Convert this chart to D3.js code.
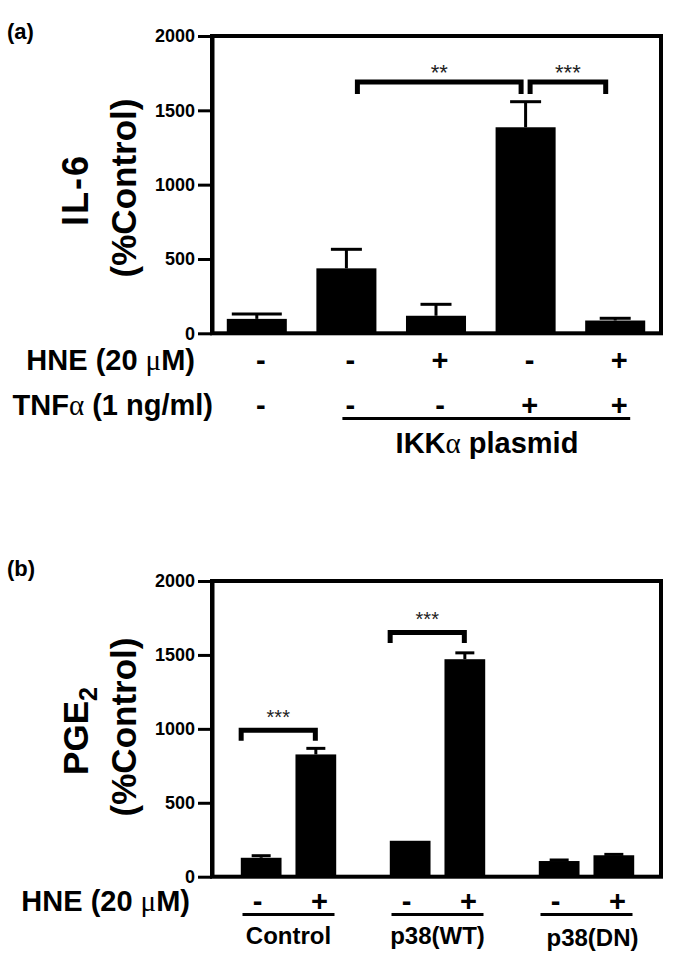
<!DOCTYPE html>
<html><head><meta charset="utf-8">
<script src="https://cdn.jsdelivr.net/npm/d3@7"></script>
<style>
body{margin:0;background:#fff}
text{font-family:"Liberation Sans",Arial,Helvetica,sans-serif;font-weight:bold;fill:#000}
.greek{font-family:"Liberation Serif","Times New Roman",serif;font-weight:normal}
.star{font-weight:normal;fill:#222}
</style>
</head><body>
<svg id="chart" width="685" height="970"></svg>
<script>
// ---------- Panel (a) data ----------
const aCategories = ["ctrl", "ikk", "ikk_hne", "ikk_tnf", "ikk_hne_tnf"];
const aValues = [97, 437, 118, 1386, 86];
const aErrors = [32, 128, 77, 172, 15];
const aHNE = ["-", "-", "+", "-", "+"];
const aTNF = ["-", "-", "-", "+", "+"];
const aTicks = [0, 500, 1000, 1500, 2000];
const aBrackets = [
  {from: 1, to: 3, label: "**", value: 1690},
  {from: 3, to: 4, label: "***", value: 1690}
];

// ---------- Panel (b) data ----------
const bGroups = ["Control", "p38(WT)", "p38(DN)"];
const bHNE = ["-", "+"];
const bValues = [[128, 827], [243, 1471], [106, 145]];
const bErrors = [[14, 41], [0, 43], [7, 6]];
const bTicks = [0, 500, 1000, 1500, 2000];
const bBrackets = [
  {group: 0, label: "***", value: 990},
  {group: 1, label: "***", value: 1652}
];

const svg = d3.select("#chart");

function frameAndAxis(y, ticks, left, right) {
  const g = svg.append("g");
  g.append("rect")
    .attr("x", left).attr("y", y(2000))
    .attr("width", right - left).attr("height", y(0) - y(2000))
    .attr("fill", "none").attr("stroke", "#000").attr("stroke-width", 4);
  const ax = g.append("g").attr("transform", `translate(${left},0)`)
    .call(d3.axisLeft(y).tickValues(ticks).tickFormat(d3.format("d"))
      .tickSize(14).tickPadding(3).tickSizeOuter(0));
  ax.select(".domain").attr("stroke-width", 4);
  ax.selectAll(".tick line").attr("stroke-width", 3);
  ax.selectAll(".tick text").attr("font-size", 18).attr("font-weight", "bold")
    .attr("font-family", '"Liberation Sans",Arial,sans-serif').attr("fill", "#000");
}

function errorBar(g, cx, yTop, yCap, capW, sw) {
  g.append("line").attr("x1", cx).attr("x2", cx).attr("y1", yTop).attr("y2", yCap)
    .attr("stroke", "#000").attr("stroke-width", sw);
  g.append("line").attr("x1", cx - capW / 2).attr("x2", cx + capW / 2).attr("y1", yCap).attr("y2", yCap)
    .attr("stroke", "#000").attr("stroke-width", sw);
}

function bracket(x1, x2, yh, drop, label, starSize, starGap) {
  svg.append("path")
    .attr("d", `M${x1},${yh + drop}V${yh}H${x2}V${yh + drop}`)
    .attr("fill", "none").attr("stroke", "#000").attr("stroke-width", 5)
    .attr("stroke-linejoin", "miter").attr("stroke-linecap", "butt");
  svg.append("text").attr("class", "star")
    .attr("x", (x1 + x2) / 2).attr("y", yh - starGap + 0.58 * starSize)
    .attr("text-anchor", "middle").attr("font-size", starSize).text(label);
}

// ================= Panel (a) =================
const left = 212, right = 661;
const yA = d3.scaleLinear().domain([0, 2000]).range([333.3, 36]);
const xA = d3.scaleBand().domain(aCategories).range([212, 660]).paddingInner(0.33).paddingOuter(0.165);
const cA = i => xA(aCategories[i]) + xA.bandwidth() / 2;

const gA = svg.append("g");
aCategories.forEach((c, i) => {
  const cx = cA(i);
  errorBar(gA, cx, yA(aValues[i]), yA(aValues[i] + aErrors[i]), i === 0 ? 50 : 31, 3);
});
gA.selectAll("rect.bar").data(aCategories).enter().append("rect").attr("class", "bar")
  .attr("x", d => xA(d)).attr("width", xA.bandwidth())
  .attr("y", (d, i) => yA(aValues[i])).attr("height", (d, i) => yA(0) - yA(aValues[i]))
  .attr("fill", "#000");
frameAndAxis(yA, aTicks, left, right);

// brackets (a)
bracket(cA(aBrackets[0].from) + 11, cA(aBrackets[0].to) - 4.5, yA(aBrackets[0].value), 12, aBrackets[0].label, 22, 15);
bracket(cA(aBrackets[1].from) + 4.5, cA(aBrackets[1].to) - 9.5, yA(aBrackets[1].value), 12, aBrackets[1].label, 22, 15);

// y title (a)
svg.append("text").attr("transform", "translate(88,190) rotate(-90)")
  .attr("text-anchor", "middle").attr("font-size", 36).attr("letter-spacing", 2).text("IL-6");
svg.append("text").attr("transform", "translate(136,188) rotate(-90)")
  .attr("text-anchor", "middle").attr("font-size", 35).text("(%Control)");

svg.append("text").attr("x", 7).attr("y", 39).attr("font-size", 22).text("(a)");

// condition rows (a)
const rowA1 = svg.append("text").attr("x", 195).attr("y", 370).attr("text-anchor", "end").attr("font-size", 29);
rowA1.append("tspan").text("HNE (20 ");
rowA1.append("tspan").attr("class", "greek").text("\u03bc");
rowA1.append("tspan").text("M)");
const rowA2 = svg.append("text").attr("x", 213).attr("y", 415).attr("text-anchor", "end").attr("font-size", 29);
rowA2.append("tspan").text("TNF");
rowA2.append("tspan").attr("class", "greek").text("\u03b1");
rowA2.append("tspan").text(" (1 ng/ml)");

aHNE.forEach((m, i) => {
  svg.append("text").attr("x", cA(i) + 4).attr("y", 370).attr("text-anchor", "middle").attr("font-size", 29).text(m);
});
aTNF.forEach((m, i) => {
  svg.append("text").attr("x", cA(i) + 4).attr("y", 415).attr("text-anchor", "middle").attr("font-size", 29).text(m);
});
svg.append("line").attr("x1", cA(1) - 4).attr("x2", cA(4) + 15).attr("y1", 418.5).attr("y2", 418.5)
  .attr("stroke", "#000").attr("stroke-width", 3);
const ikk = svg.append("text").attr("x", 487).attr("y", 453).attr("text-anchor", "middle").attr("font-size", 29);
ikk.append("tspan").text("IKK");
ikk.append("tspan").attr("class", "greek").text("\u03b1");
ikk.append("tspan").text(" plasmid");

// ================= Panel (b) =================
const yB = d3.scaleLinear().domain([0, 2000]).range([876.7, 581]);
const x0 = d3.scaleBand().domain(bGroups).range([214, 661]);
const x1 = d3.scaleBand().domain(bHNE).range([0, x0.bandwidth()]).paddingInner(0.255).paddingOuter(0.49);
const gc = gi => x0(bGroups[gi]) + x0.bandwidth() / 2;
const bc = (gi, j) => x0(bGroups[gi]) + x1(bHNE[j]) + x1.bandwidth() / 2;

const gB = svg.append("g");
bGroups.forEach((grp, gi) => {
  bHNE.forEach((h, j) => {
    const v = bValues[gi][j], e = bErrors[gi][j];
    if (e > 0) errorBar(gB, bc(gi, j), yB(v), yB(v + e), 19, 3);
    gB.append("rect").attr("x", x0(grp) + x1(h)).attr("width", x1.bandwidth())
      .attr("y", yB(v)).attr("height", yB(0) - yB(v)).attr("fill", "#000");
  });
});
frameAndAxis(yB, bTicks, left, right);

bBrackets.forEach(b => {
  bracket(bc(b.group, 0) - 20, bc(b.group, 1) - 0.5, yB(b.value), 10.5, b.label, 20, 18);
});

// y title (b)
const pge = svg.append("text").attr("transform", "translate(88,731) rotate(-90)")
  .attr("text-anchor", "middle").attr("font-size", 35);
pge.append("tspan").text("PGE");
pge.append("tspan").attr("font-size", 25).attr("dy", 9).text("2");
svg.append("text").attr("transform", "translate(136,727) rotate(-90)")
  .attr("text-anchor", "middle").attr("font-size", 35).text("(%Control)");

svg.append("text").attr("x", 7).attr("y", 576).attr("font-size", 22).text("(b)");

// condition rows (b)
const rowB = svg.append("text").attr("x", 190).attr("y", 911).attr("text-anchor", "end").attr("font-size", 29);
rowB.append("tspan").text("HNE (20 ");
rowB.append("tspan").attr("class", "greek").text("\u03bc");
rowB.append("tspan").text("M)");

bGroups.forEach((grp, gi) => {
  bHNE.forEach((h, j) => {
    svg.append("text").attr("x", gc(gi) + (j === 0 ? -31 : 31)).attr("y", 911)
      .attr("text-anchor", "middle").attr("font-size", 29).text(h);
  });
  svg.append("line").attr("x1", gc(gi) - 46).attr("x2", gc(gi) + 46).attr("y1", 914.5).attr("y2", 914.5)
    .attr("stroke", "#000").attr("stroke-width", 3);
  svg.append("text").attr("x", gc(gi) + (gi === 2 ? 6 : 0)).attr("y", gi === 2 ? 946 : 944)
    .attr("text-anchor", "middle").attr("font-size", 24).text(grp);
});
</script>
</body></html>
